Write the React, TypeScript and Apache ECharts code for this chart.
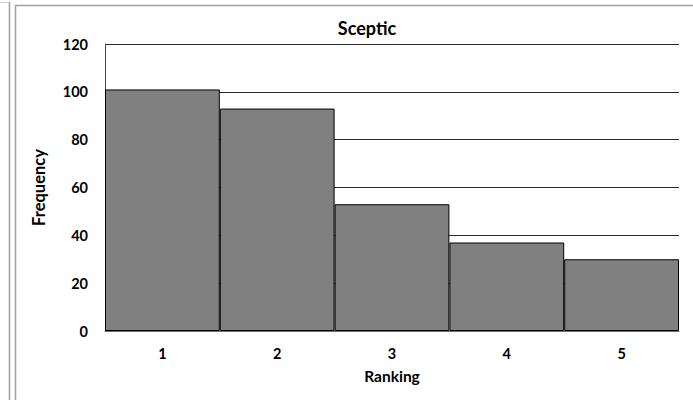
import React, { useEffect, useRef } from "react";
import * as echarts from "echarts";

const rankings = ["1", "2", "3", "4", "5"];
const frequency = [101, 93, 53, 37, 30];
const yTicks = { min: 0, max: 120, interval: 20 };

const FONT = "Lato, 'Open Sans', sans-serif";

export default function App() {
  const ref = useRef<HTMLDivElement>(null);

  useEffect(() => {
    if (!ref.current) return;
    const chart = echarts.init(ref.current, undefined, { renderer: "svg" });
    chart.setOption({
      animation: false,
      backgroundColor: "#ffffff",
      title: {
        text: "Sceptic",
        left: 362,
        top: 14,
        textAlign: "center",
        textStyle: { fontFamily: FONT, fontWeight: "bold", fontSize: 18, color: "#000" },
      },
      grid: { left: 105, right: 14, top: 44, bottom: 69, containLabel: false },
      xAxis: {
        type: "category",
        data: rankings,
        name: "Ranking",
        nameLocation: "middle",
        nameGap: 37,
        nameTextStyle: { fontFamily: FONT, fontWeight: "bold", fontSize: 15.5, color: "#000" },
        axisLine: { show: true, lineStyle: { color: "#6e6e6e", width: 1 } },
        axisTick: { show: false },
        axisLabel: { fontFamily: FONT, fontWeight: "bold", fontSize: 14.5, color: "#000", margin: 15 },
        splitLine: { show: false },
      },
      yAxis: {
        type: "value",
        min: yTicks.min,
        max: yTicks.max,
        interval: yTicks.interval,
        name: "Frequency",
        nameLocation: "middle",
        nameGap: 58,
        nameRotate: 90,
        nameTextStyle: { fontFamily: FONT, fontWeight: "bold", fontSize: 16.5, color: "#000" },
        axisLine: { show: true, lineStyle: { color: "#4a4a4a", width: 1 } },
        axisTick: { show: false },
        axisLabel: { fontFamily: FONT, fontWeight: "bold", fontSize: 14.5, color: "#000", margin: 17 },
        splitLine: { show: true, lineStyle: { color: "#2a2a2a", width: 1 } },
      },
      series: [
        {
          type: "bar",
          data: frequency,
          barWidth: "100%",
          barCategoryGap: 0,
          itemStyle: { color: "#808080", borderColor: "#000", borderWidth: 1 },
        },
      ],
      graphic: [
        { type: "line", shape: { x1: 0, y1: 2.5, x2: 9, y2: 2.5 }, style: { stroke: "#d0d0d0", lineWidth: 1 } },
        { type: "line", shape: { x1: 9.5, y1: 2, x2: 9.5, y2: 400 }, style: { stroke: "#a0a0a0", lineWidth: 1.5 } },
        { type: "line", shape: { x1: 15.5, y1: 5.5, x2: 15.5, y2: 400 }, style: { stroke: "#a0a0a0", lineWidth: 1.5 } },
        { type: "line", shape: { x1: 15, y1: 5.5, x2: 693, y2: 5.5 }, style: { stroke: "#a0a0a0", lineWidth: 1.5 } },
      ],
    });
    return () => chart.dispose();
  }, []);

  return (
    <div
      ref={ref}
      style={{ position: "fixed", left: 0, top: 0, width: 693, height: 400, background: "#fff" }}
    />
  );
}
